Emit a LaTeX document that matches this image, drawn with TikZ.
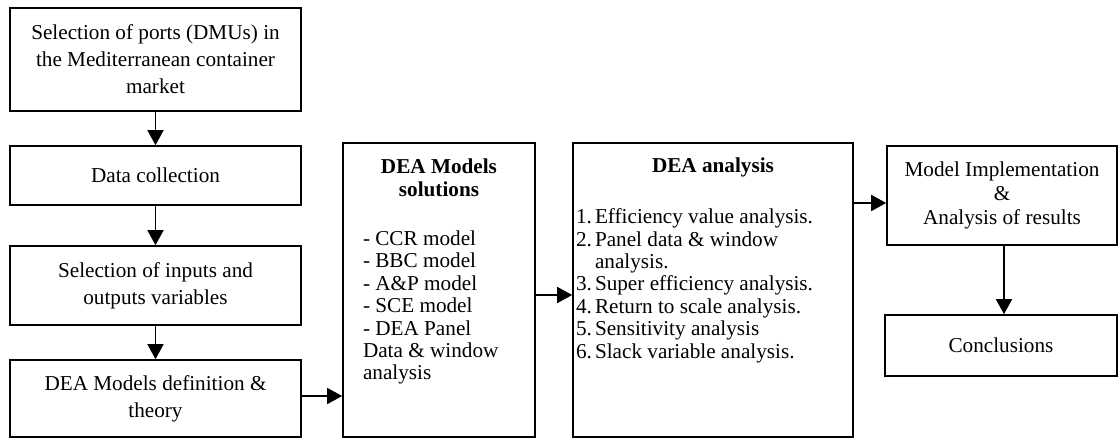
\documentclass[tikz,border=0pt]{standalone}
\usepackage{fontspec}
\setmainfont{Liberation Serif}
\usetikzlibrary{arrows.meta, positioning}
\newcommand{\boxfont}{\fontsize{10.6pt}{13.5pt}\selectfont}
\newcommand{\listfont}{\fontsize{10.6pt}{11.2pt}\selectfont}
\newcommand{\listitem}[2]{\noindent\makebox[9.5pt][l]{#1}#2\par}
\tikzset{
    stepbox/.style={draw, line width=0.8pt, align=center, inner sep=0pt, font=\boxfont},
    arr/.style={-{Triangle[length=7.5pt, width=8pt]}, line width=0.8pt}
}

\begin{document}
\begin{tikzpicture}[x=0.5pt, y=-0.5pt]
    \useasboundingbox (0,0) rectangle (1119,439);

    % Left column
    \node[stepbox, minimum width=145.5pt, minimum height=51.5pt] (ports) at (155.5,59.5)
        {Selection of ports (DMUs) in\\the Mediterranean container\\market};
    \node[stepbox, minimum width=145.5pt, minimum height=29.5pt] (collect) at (155.5,175.5)
        {Data collection};
    \node[stepbox, minimum width=145.5pt, minimum height=39.5pt] (vars) at (155.5,285.5)
        {Selection of inputs and\\outputs variables};
    \node[stepbox, minimum width=145.5pt, minimum height=38.5pt] (theory) at (155.5,398.5)
        {DEA Models definition \&\\theory};

    % Models
    \node[stepbox, minimum width=96pt, minimum height=147pt] (models) at (439,290)
        {\parbox[c][147pt][t]{96pt}{\listfont
            \vspace*{8pt}
            {\centering\textbf{DEA Models}\\\textbf{solutions}\par}
            \vspace{13.5pt}
            \raggedright\leftskip=10pt
            - CCR model\\
            - BBC model\\
            - A\&P model\\
            - SCE model\\
            - DEA Panel\\
            Data \& window\\
            analysis\par}};

    % Analysis
    \node[stepbox, minimum width=140pt, minimum height=147pt] (analysis) at (713,290)
        {\parbox[c][147pt][t]{140pt}{\listfont
            \vspace*{7.5pt}
            {\centering\textbf{DEA analysis}\par}
            \vspace{14.25pt}
            \leftskip=1.5pt
            \listitem{1.}{Efficiency value analysis.}
            \listitem{2.}{Panel data \& window}
            \listitem{}{analysis.}
            \listitem{3.}{Super efficiency analysis.}
            \listitem{4.}{Return to scale analysis.}
            \listitem{5.}{Sensitivity analysis}
            \listitem{6.}{Slack variable analysis.}}};

    % Right column
    \node[stepbox, minimum width=115pt, minimum height=49.5pt, font=\fontsize{10.6pt}{12pt}\selectfont] (results) at (1002,195.5)
        {Model Implementation\\\&\\Analysis of results};
    \node[stepbox, minimum width=116pt, minimum height=30.5pt] (concl) at (1001,345.5)
        {Conclusions};

    % Arrows
    \draw[arr] (ports) -- (collect);
    \draw[arr] (collect) -- (vars);
    \draw[arr] (vars) -- (theory);
    \draw[arr] ([yshift=1.25pt]theory.east) -- ([yshift=1.25pt]theory.east -| models.west);
    \draw[arr] ([yshift=-2.5pt]models.east) -- ([yshift=-2.5pt]analysis.west);
    \draw[arr] ([yshift=-3.75pt]results.west -| analysis.east) -- ([yshift=-3.75pt]results.west);
    \draw[arr] ([xshift=1pt]results.south) -- ([xshift=1pt]results.south |- concl.north);
\end{tikzpicture}
\end{document}
